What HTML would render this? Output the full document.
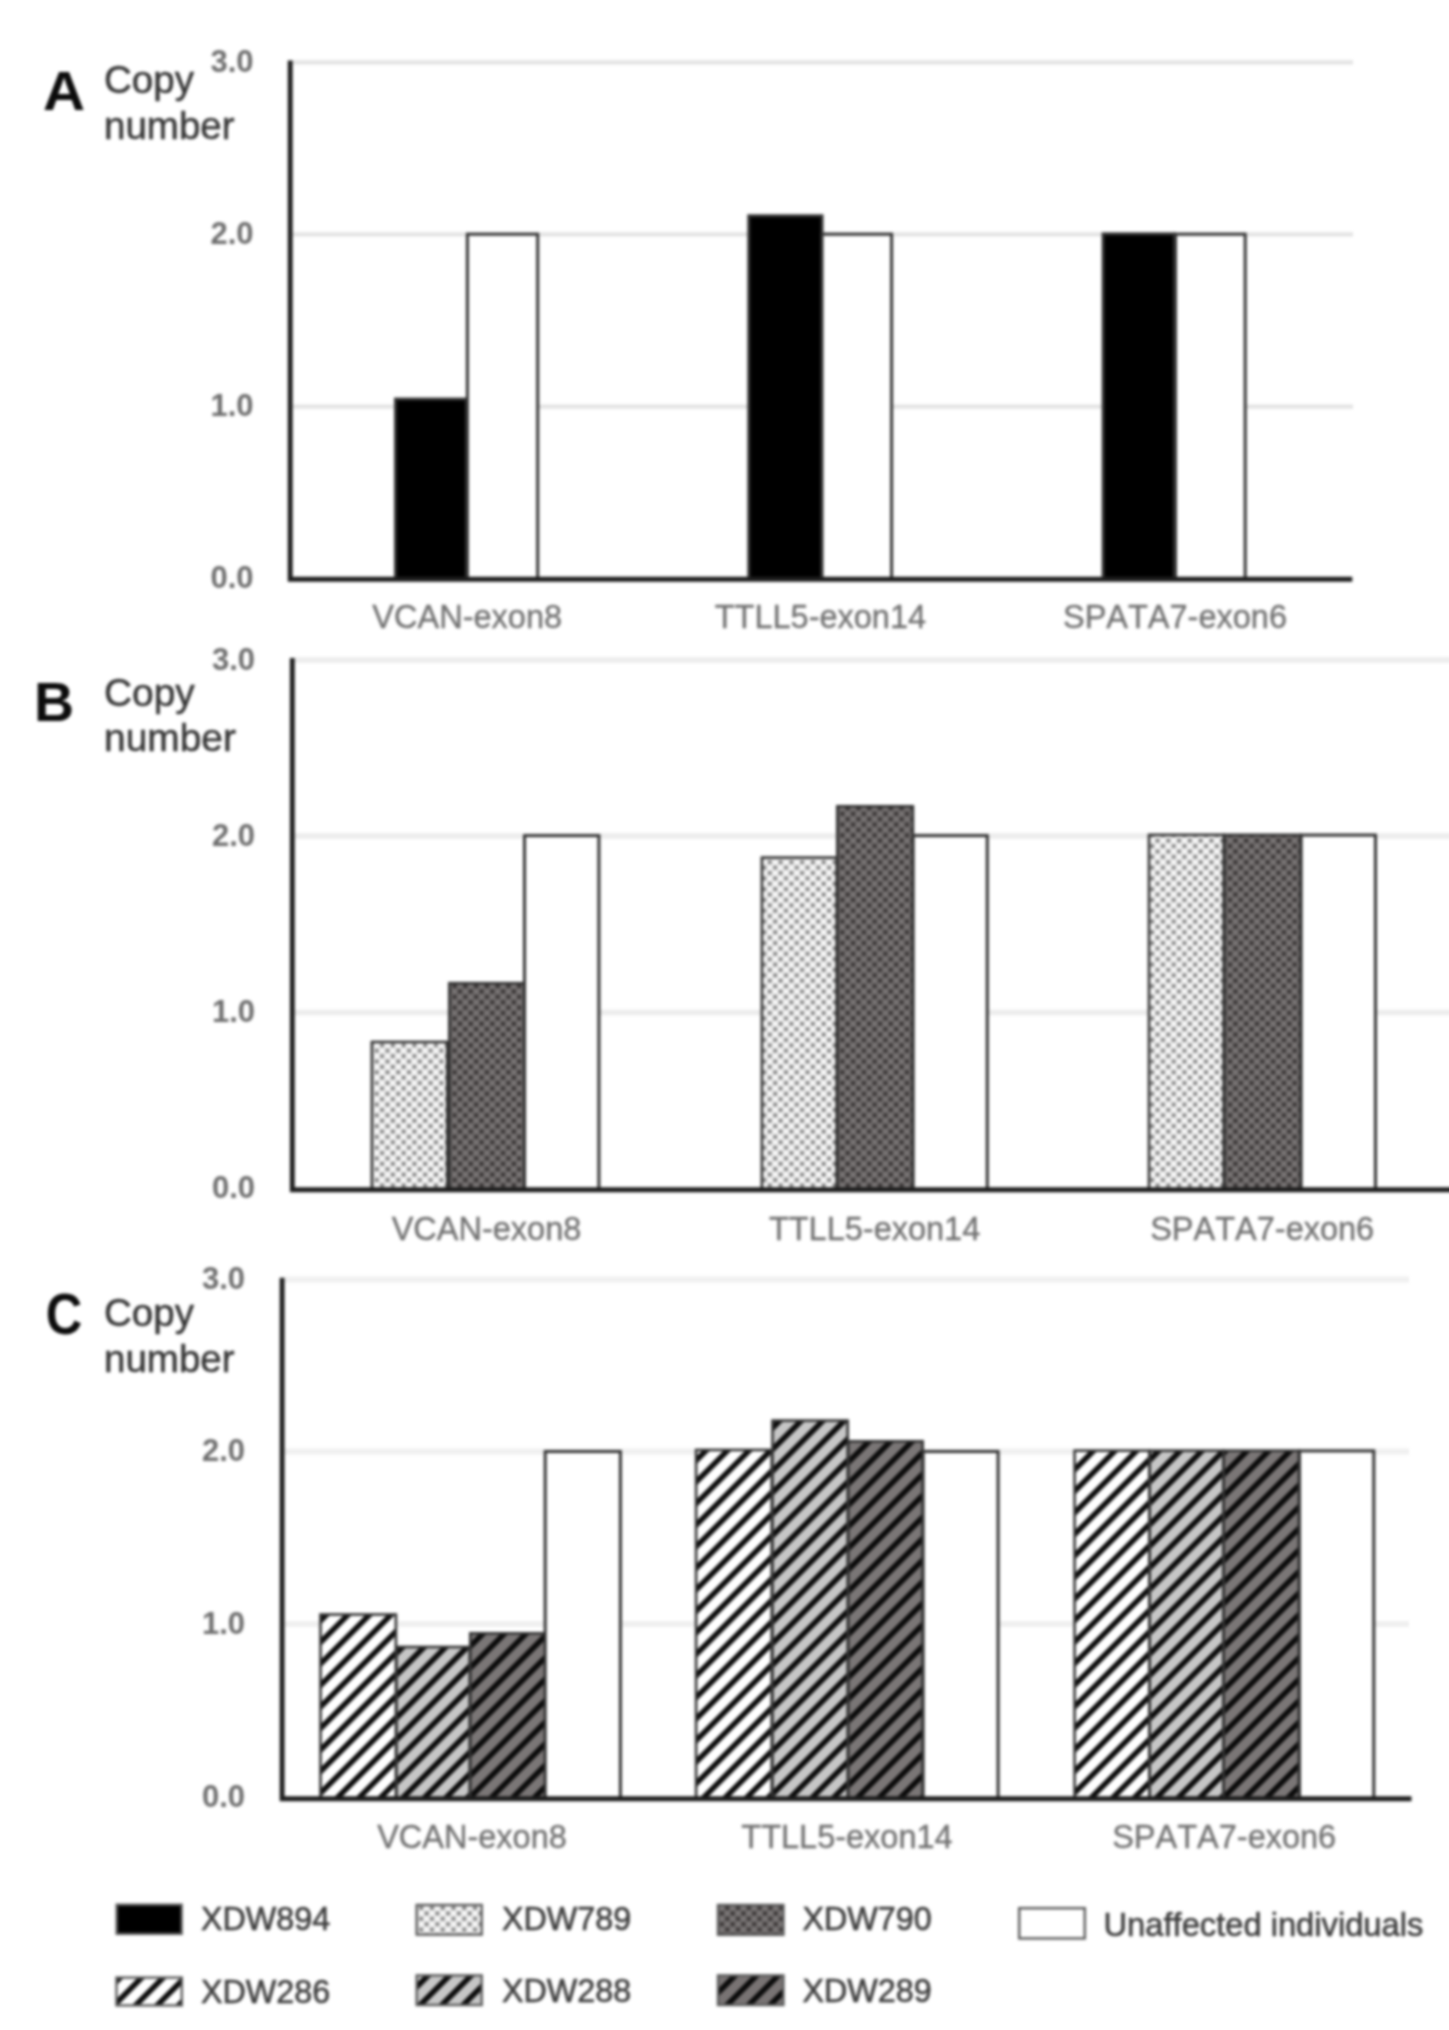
<!DOCTYPE html>
<html><head><meta charset="utf-8"><title>Copy number</title>
<style>html,body{margin:0;padding:0;background:#fff}body{width:1449px;height:2030px;overflow:hidden;font-family:"Liberation Sans",sans-serif}svg{display:block}text{font-family:"Liberation Sans",sans-serif;font-kerning:none}</style>
</head><body>
<svg width="1449" height="2030" viewBox="0 0 1449 2030">
<defs>
<filter id="bl" x="-30" y="-30" width="1509" height="2090" filterUnits="userSpaceOnUse" color-interpolation-filters="sRGB"><feGaussianBlur stdDeviation="1.4"/></filter>
<pattern id="dl" patternUnits="userSpaceOnUse" x="412.75" y="1054.45" width="10.77" height="10.77"><rect width="10.77" height="10.77" fill="#e7e7e7"/><rect x="0" y="0" width="3.3" height="3.3" fill="#6c6c6c"/><rect x="5.385" y="5.385" width="3.3" height="3.3" fill="#6c6c6c"/><rect x="5.385" y="0" width="3.3" height="3.3" fill="#ffffff"/><rect x="0" y="5.385" width="3.3" height="3.3" fill="#ffffff"/></pattern>
<pattern id="dd" patternUnits="userSpaceOnUse" x="458.32" y="1054.45" width="10.77" height="10.77"><rect width="10.77" height="10.77" fill="#696565"/><rect x="0" y="0" width="3.3" height="3.3" fill="#2c2828"/><rect x="5.385" y="5.385" width="3.3" height="3.3" fill="#2c2828"/><rect x="5.385" y="0" width="3.3" height="3.3" fill="#807c7c"/><rect x="0" y="5.385" width="3.3" height="3.3" fill="#807c7c"/></pattern>
<pattern id="h1" patternUnits="userSpaceOnUse" width="15.23" height="15.23" patternTransform="translate(-1.1 0) rotate(-45)"><rect width="15.23" height="15.23" fill="#ffffff"/><rect x="0" y="0" width="15.23" height="5.5" fill="#0a0a0a"/></pattern>
<pattern id="h2" patternUnits="userSpaceOnUse" width="15.23" height="15.23" patternTransform="translate(-0.3 0) rotate(-45)"><rect width="15.23" height="15.23" fill="#c6c6c6"/><rect x="0" y="0" width="15.23" height="5.5" fill="#0a0a0a"/></pattern>
<pattern id="h3" patternUnits="userSpaceOnUse" width="15.23" height="15.23" patternTransform="translate(1.95 0) rotate(-45)"><rect width="15.23" height="15.23" fill="#7a7676"/><rect x="0" y="0" width="15.23" height="5.5" fill="#0a0a0a"/></pattern>
<pattern id="h1L" patternUnits="userSpaceOnUse" width="15.23" height="15.23" patternTransform="translate(4.7 0) rotate(-45)"><rect width="15.23" height="15.23" fill="#ffffff"/><rect x="0" y="0" width="15.23" height="5.5" fill="#0a0a0a"/></pattern>
<pattern id="h2L" patternUnits="userSpaceOnUse" width="15.23" height="15.23" patternTransform="translate(8.96 0) rotate(-45)"><rect width="15.23" height="15.23" fill="#c6c6c6"/><rect x="0" y="0" width="15.23" height="5.5" fill="#0a0a0a"/></pattern>
<pattern id="h3L" patternUnits="userSpaceOnUse" width="15.23" height="15.23" patternTransform="translate(14.4 0) rotate(-45)"><rect width="15.23" height="15.23" fill="#787373"/><rect x="0" y="0" width="15.23" height="5.5" fill="#0a0a0a"/></pattern>
<pattern id="dlL" patternUnits="userSpaceOnUse" x="424.90" y="1911.75" width="10.77" height="10.77"><rect width="10.77" height="10.77" fill="#e7e7e7"/><rect x="0" y="0" width="3.3" height="3.3" fill="#6c6c6c"/><rect x="5.385" y="5.385" width="3.3" height="3.3" fill="#6c6c6c"/><rect x="5.385" y="0" width="3.3" height="3.3" fill="#ffffff"/><rect x="0" y="5.385" width="3.3" height="3.3" fill="#ffffff"/></pattern>
<pattern id="ddL" patternUnits="userSpaceOnUse" x="720.25" y="1911.75" width="10.77" height="10.77"><rect width="10.77" height="10.77" fill="#6b6767"/><rect x="0" y="0" width="3.3" height="3.3" fill="#2e2a2a"/><rect x="5.385" y="5.385" width="3.3" height="3.3" fill="#2e2a2a"/><rect x="5.385" y="0" width="3.3" height="3.3" fill="#827e7e"/><rect x="0" y="5.385" width="3.3" height="3.3" fill="#827e7e"/></pattern>
</defs>
<rect width="100%" height="100%" fill="#fff"/>
<g filter="url(#bl)">
<!-- panel A -->
<line x1="292.2" y1="62.3" x2="1353" y2="62.3" stroke="#e3e3e3" stroke-width="4.2"/>
<line x1="292.2" y1="234.4" x2="1353" y2="234.4" stroke="#e3e3e3" stroke-width="4.2"/>
<line x1="292.2" y1="406.6" x2="1353" y2="406.6" stroke="#e3e3e3" stroke-width="4.2"/>
<rect x="395.5" y="399.1" width="71.0" height="180.2" fill="#000" stroke="#333333" stroke-width="3.0" />
<rect x="467.4" y="234.2" width="70.3" height="345.1" fill="#fff" stroke="#333333" stroke-width="3.0" />
<rect x="748.8" y="215.8" width="73.2" height="363.5" fill="#000" stroke="#333333" stroke-width="3.0" />
<rect x="822.0" y="234.2" width="69.6" height="345.1" fill="#fff" stroke="#333333" stroke-width="3.0" />
<rect x="1103.1" y="233.9" width="71.4" height="345.4" fill="#000" stroke="#333333" stroke-width="3.0" />
<rect x="1175.5" y="234.2" width="69.7" height="345.1" fill="#fff" stroke="#333333" stroke-width="3.0" />
<path d="M290.2 60.5 V579.3 H1352.3" fill="none" stroke="#1e1e1e" stroke-width="4.9" stroke-linejoin="miter"/>
<text x="253.5" y="71.9" text-anchor="end" font-size="31" font-weight="bold" fill="#6e6e6e">3.0</text>
<text x="253.5" y="244.0" text-anchor="end" font-size="31" font-weight="bold" fill="#6e6e6e">2.0</text>
<text x="253.5" y="416.2" text-anchor="end" font-size="31" font-weight="bold" fill="#6e6e6e">1.0</text>
<text x="253.5" y="587.8" text-anchor="end" font-size="31" font-weight="bold" fill="#6e6e6e">0.0</text>
<text transform="translate(43 110) scale(1.05 1.0)" font-size="55.5" font-weight="bold" fill="#0c0c0c">A</text>
<text x="104" y="92.8" font-size="38.5" fill="#363636" stroke="#363636" stroke-width="0.5">Copy</text>
<text x="104" y="139.4" font-size="38.5" fill="#363636" stroke="#363636" stroke-width="0.5">number</text>
<text x="467.2" y="628.3" text-anchor="middle" font-size="32.5" fill="#707070" stroke="#707070" stroke-width="0.35">VCAN-exon8</text>
<text x="820.4" y="628.3" text-anchor="middle" font-size="32.5" fill="#707070" stroke="#707070" stroke-width="0.35">TTLL5-exon14</text>
<text x="1175" y="628.3" text-anchor="middle" font-size="32.5" fill="#707070" stroke="#707070" stroke-width="0.35">SPATA7-exon6</text>
<!-- panel B -->
<line x1="294.3" y1="660" x2="1475" y2="660" stroke="#ececec" stroke-width="5.6"/>
<line x1="294.3" y1="836" x2="1475" y2="836" stroke="#ececec" stroke-width="5.6"/>
<line x1="294.3" y1="1012.5" x2="1475" y2="1012.5" stroke="#ececec" stroke-width="5.6"/>
<rect x="371.9" y="1042.0" width="75.4" height="147.7" fill="url(#dl)" stroke="#333333" stroke-width="2.6" />
<rect x="449.3" y="983.2" width="75.4" height="206.5" fill="url(#dd)" stroke="#333333" stroke-width="2.6" />
<rect x="524.5" y="835.6" width="74.4" height="354.1" fill="#fff" stroke="#333333" stroke-width="3.0" />
<rect x="761.9" y="857.6" width="74.8" height="332.1" fill="url(#dl)" stroke="#333333" stroke-width="2.6" />
<rect x="837.3" y="806.3" width="75.6" height="383.4" fill="url(#dd)" stroke="#333333" stroke-width="2.6" />
<rect x="913.1" y="835.6" width="74.2" height="354.1" fill="#fff" stroke="#333333" stroke-width="3.0" />
<rect x="1149.0" y="834.9" width="74.7" height="354.8" fill="url(#dl)" stroke="#333333" stroke-width="2.6" />
<rect x="1224.3" y="834.9" width="76.4" height="354.8" fill="url(#dd)" stroke="#333333" stroke-width="2.6" />
<rect x="1301.1" y="835.1" width="74.4" height="354.6" fill="#fff" stroke="#333333" stroke-width="3.0" />
<path d="M292.3 658 V1189.7 H1475" fill="none" stroke="#1e1e1e" stroke-width="4.9" stroke-linejoin="miter"/>
<text x="255" y="669.6" text-anchor="end" font-size="31" font-weight="bold" fill="#6e6e6e">3.0</text>
<text x="255" y="845.6" text-anchor="end" font-size="31" font-weight="bold" fill="#6e6e6e">2.0</text>
<text x="255" y="1022.1" text-anchor="end" font-size="31" font-weight="bold" fill="#6e6e6e">1.0</text>
<text x="255" y="1198.2" text-anchor="end" font-size="31" font-weight="bold" fill="#6e6e6e">0.0</text>
<text transform="translate(34 721) scale(1.0 1.0)" font-size="55.5" font-weight="bold" fill="#0c0c0c">B</text>
<text x="104" y="705.9" font-size="38.9" fill="#363636" stroke="#363636" stroke-width="0.5">Copy</text>
<text x="104" y="751.4" font-size="38.9" fill="#363636" stroke="#363636" stroke-width="0.5">number</text>
<text x="486.5" y="1240" text-anchor="middle" font-size="32.5" fill="#707070" stroke="#707070" stroke-width="0.35">VCAN-exon8</text>
<text x="874.6" y="1240" text-anchor="middle" font-size="32.5" fill="#707070" stroke="#707070" stroke-width="0.35">TTLL5-exon14</text>
<text x="1262.2" y="1240" text-anchor="middle" font-size="32.5" fill="#707070" stroke="#707070" stroke-width="0.35">SPATA7-exon6</text>
<!-- panel C -->
<line x1="284.1" y1="1279.5" x2="1409" y2="1279.5" stroke="#f0f0f0" stroke-width="6.0"/>
<line x1="284.1" y1="1451.5" x2="1409" y2="1451.5" stroke="#f0f0f0" stroke-width="6.0"/>
<line x1="284.1" y1="1624" x2="1409" y2="1624" stroke="#f0f0f0" stroke-width="6.0"/>
<rect x="320.5" y="1614.5" width="75.4" height="184.2" fill="url(#h1)" stroke="#333333" stroke-width="2.6" />
<rect x="396.5" y="1647.0" width="73.2" height="151.7" fill="url(#h2)" stroke="#333333" stroke-width="2.6" />
<rect x="470.3" y="1633.3" width="76.4" height="165.4" fill="url(#h3)" stroke="#333333" stroke-width="2.6" />
<rect x="545.2" y="1451.5" width="75.2" height="347.2" fill="#fff" stroke="#333333" stroke-width="3.0" />
<rect x="696.1" y="1450.0" width="75.6" height="348.7" fill="url(#h1)" stroke="#333333" stroke-width="2.6" />
<rect x="772.5" y="1420.6" width="75.2" height="378.1" fill="url(#h2)" stroke="#333333" stroke-width="2.6" />
<rect x="848.3" y="1441.3" width="74.4" height="357.4" fill="url(#h3)" stroke="#333333" stroke-width="2.6" />
<rect x="923.1" y="1451.5" width="75.0" height="347.2" fill="#fff" stroke="#333333" stroke-width="3.0" />
<rect x="1074.6" y="1450.7" width="74.7" height="348.0" fill="url(#h1)" stroke="#333333" stroke-width="2.6" />
<rect x="1149.7" y="1450.7" width="73.6" height="348.0" fill="url(#h2)" stroke="#333333" stroke-width="2.6" />
<rect x="1223.7" y="1450.7" width="75.2" height="348.0" fill="url(#h3)" stroke="#333333" stroke-width="2.6" />
<rect x="1299.5" y="1450.9" width="74.3" height="347.8" fill="#fff" stroke="#333333" stroke-width="3.0" />
<path d="M282.1 1277.8 V1798.7 H1411.5" fill="none" stroke="#1e1e1e" stroke-width="4.9" stroke-linejoin="miter"/>
<text x="245" y="1289.1" text-anchor="end" font-size="31" font-weight="bold" fill="#6e6e6e">3.0</text>
<text x="245" y="1461.1" text-anchor="end" font-size="31" font-weight="bold" fill="#6e6e6e">2.0</text>
<text x="245" y="1633.6" text-anchor="end" font-size="31" font-weight="bold" fill="#6e6e6e">1.0</text>
<text x="245" y="1807.2" text-anchor="end" font-size="31" font-weight="bold" fill="#6e6e6e">0.0</text>
<text transform="translate(45.8 1334.3) scale(0.91 1.05)" font-size="55.5" font-weight="bold" fill="#0c0c0c">C</text>
<text x="104" y="1326.4" font-size="38.5" fill="#363636" stroke="#363636" stroke-width="0.5">Copy</text>
<text x="104" y="1372" font-size="38.5" fill="#363636" stroke="#363636" stroke-width="0.5">number</text>
<text x="472" y="1848" text-anchor="middle" font-size="32.5" fill="#707070" stroke="#707070" stroke-width="0.35">VCAN-exon8</text>
<text x="847" y="1848" text-anchor="middle" font-size="32.5" fill="#707070" stroke="#707070" stroke-width="0.35">TTLL5-exon14</text>
<text x="1224.2" y="1848" text-anchor="middle" font-size="32.5" fill="#707070" stroke="#707070" stroke-width="0.35">SPATA7-exon6</text>
<!-- legend -->
<rect x="116.7" y="1904.7" width="64.9" height="29.1" fill="#000" stroke="#5a5a5a" stroke-width="2.4" />
<rect x="416.7" y="1905.0" width="65.0" height="29.6" fill="url(#dlL)" stroke="#5a5a5a" stroke-width="2.4" />
<rect x="718.0" y="1905.0" width="65.4" height="29.8" fill="url(#ddL)" stroke="#5a5a5a" stroke-width="2.4" />
<rect x="1019.2" y="1908.2" width="65.6" height="30.2" fill="#fff" stroke="#5a5a5a" stroke-width="2.4" />
<rect x="116.5" y="1977.6" width="65.3" height="27.8" fill="url(#h1L)" stroke="#5a5a5a" stroke-width="2.4" />
<rect x="416.7" y="1975.4" width="65.0" height="29.6" fill="url(#h2L)" stroke="#5a5a5a" stroke-width="2.4" />
<rect x="718.0" y="1975.4" width="65.4" height="29.6" fill="url(#h3L)" stroke="#5a5a5a" stroke-width="2.4" />
<text x="201" y="1930.4" font-size="32.3" fill="#3e3e3e" stroke="#3e3e3e" stroke-width="0.6">XDW894</text>
<text x="502" y="1930.4" font-size="32.3" fill="#3e3e3e" stroke="#3e3e3e" stroke-width="0.6">XDW789</text>
<text x="802.5" y="1930.4" font-size="32.3" fill="#3e3e3e" stroke="#3e3e3e" stroke-width="0.6">XDW790</text>
<text x="1103.5" y="1935.9" font-size="32.7" fill="#3e3e3e" stroke="#3e3e3e" stroke-width="0.6">Unaffected individuals</text>
<text x="201" y="2003" font-size="32.3" fill="#3e3e3e" stroke="#3e3e3e" stroke-width="0.6">XDW286</text>
<text x="502" y="2002" font-size="32.3" fill="#3e3e3e" stroke="#3e3e3e" stroke-width="0.6">XDW288</text>
<text x="802.5" y="2002" font-size="32.3" fill="#3e3e3e" stroke="#3e3e3e" stroke-width="0.6">XDW289</text>
</g></svg></body></html>
